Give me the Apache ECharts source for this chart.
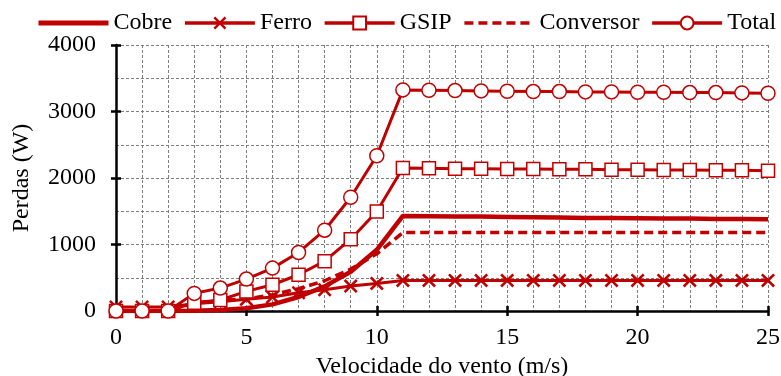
<!DOCTYPE html>
<html>
<head>
<meta charset="UTF-8">
<title>Perdas</title>
<script src="https://cdn.jsdelivr.net/npm/echarts@6/dist/echarts.min.js"></script>
<style>
  body { margin: 0; background: #fff; }
  #main { width: 781px; height: 376px; }
</style>
</head>
<body>
<div id="main"></div>
<script>
// velocidade do vento (m/s)
var vento = [0, 1, 2, 3, 4, 5, 6, 7, 8, 9, 10, 11, 12, 13, 14, 15, 16, 17, 18, 19, 20, 21, 22, 23, 24, 25];
// perdas (W)
var cobre = [0, 0, 0, 5, 15, 40, 100, 210, 370, 590, 920, 1430, 1425, 1420, 1420, 1415, 1410, 1405, 1400, 1400, 1395, 1390, 1390, 1385, 1385, 1380];
var ferro = [60, 60, 60, 110, 140, 175, 210, 275, 320, 375, 415, 460, 460, 460, 460, 460, 460, 460, 460, 460, 460, 460, 460, 460, 460, 460];
var gsip = [0, 0, 0, 125, 165, 295, 395, 545, 750, 1080, 1495, 2150, 2145, 2140, 2140, 2135, 2135, 2130, 2130, 2125, 2125, 2120, 2120, 2115, 2115, 2110];
var conversor = [0, 0, 0, 120, 160, 180, 245, 335, 455, 630, 860, 1180, 1180, 1180, 1180, 1180, 1180, 1180, 1180, 1180, 1180, 1180, 1180, 1180, 1180, 1180];
var total = [0, 0, 0, 265, 345, 480, 645, 880, 1215, 1710, 2335, 3325, 3320, 3315, 3310, 3305, 3300, 3300, 3295, 3295, 3290, 3290, 3285, 3285, 3280, 3275];

var vermelho = '#C00000';
var fonte = 'Liberation Serif';
var xis = 'path://M0,1.3L1.3,0L5,3.7L8.7,0L10,1.3L6.3,5L10,8.7L8.7,10L5,6.3L1.3,10L0,8.7L3.7,5Z';

function pares(ys) {
  return vento.map(function (v, i) { return [v, ys[i]]; });
}

var chart = echarts.init(document.getElementById('main'));

var grade = { show: true, lineStyle: { color: '#7f7f7f', type: [3, 2], width: 1 } };

var option = {
  backgroundColor: '#fff',
  animation: false,
  textStyle: { fontFamily: fonte, color: '#000' },
  legend: {
    top: 6,
    left: 31,
    width: 770,
    itemWidth: 70,
    itemHeight: 16,
    itemGap: 11,
    textStyle: { fontFamily: fonte, fontSize: 24, color: '#000' },
    data: [
      { name: 'Cobre', itemStyle: { opacity: 0 }, lineStyle: { width: 5 } },
      { name: 'Ferro', lineStyle: { width: 3.5 } },
      { name: 'GSIP', lineStyle: { width: 3.5 } },
      { name: 'Conversor', itemStyle: { opacity: 0 }, lineStyle: { width: 3.5 } },
      { name: 'Total', lineStyle: { width: 3.5 } }
    ]
  },
  grid: { left: 116, right: 13, top: 45, bottom: 65, outerBoundsMode: 'none', containLabel: false },
  xAxis: [{
    type: 'value', min: 0, max: 25, interval: 5,
    name: 'Velocidade do vento (m/s)', nameLocation: 'middle', nameGap: 36,
    nameTextStyle: { fontFamily: fonte, fontSize: 24, color: '#000' },
    axisLine: { show: true, onZero: false, lineStyle: { color: '#000', width: 2.5 } },
    axisTick: { show: true, length: 5, lineStyle: { color: '#000', width: 2.5 } },
    axisLabel: { fontFamily: fonte, fontSize: 24, color: '#000', margin: 15, formatter: function (v) { return String(v); } },
    splitLine: grade,
    minorTick: { show: false, splitNumber: 5 },
    minorSplitLine: grade
  }, {
    type: 'value', min: 0, max: 25, interval: 5, position: 'bottom',
    axisLine: { show: false },
    axisTick: { show: true, inside: true, length: 5, lineStyle: { color: '#000', width: 2.5 } },
    axisLabel: { show: false },
    splitLine: { show: false }
  }],
  yAxis: [{
    type: 'value', min: 0, max: 4000, interval: 1000,
    name: 'Perdas (W)', nameLocation: 'middle', nameGap: 82,
    nameTextStyle: { fontFamily: fonte, fontSize: 24, color: '#000' },
    axisLine: { show: true, onZero: false, lineStyle: { color: '#000', width: 2.5 } },
    axisTick: { show: true, length: 5, lineStyle: { color: '#000', width: 2.5 } },
    axisLabel: { fontFamily: fonte, fontSize: 24, color: '#000', margin: 20, formatter: function (v) { return String(v); } },
    splitLine: grade,
    minorTick: { show: false, splitNumber: 2 },
    minorSplitLine: grade
  }, {
    type: 'value', min: 0, max: 4000, interval: 1000, position: 'left',
    axisLine: { show: false },
    axisTick: { show: true, inside: true, length: 5, lineStyle: { color: '#000', width: 2.5 } },
    axisLabel: { show: false },
    splitLine: { show: false }
  }],
  series: [{
    name: 'Cobre', type: 'line', data: pares(cobre),
    symbol: 'none',
    lineStyle: { color: vermelho, width: 4.5 },
    itemStyle: { color: vermelho }
  }, {
    name: 'Ferro', type: 'line', data: pares(ferro),
    symbol: xis, symbolSize: 14,
    lineStyle: { color: vermelho, width: 3 },
    itemStyle: { color: vermelho, borderWidth: 0 }
  }, {
    name: 'GSIP', type: 'line', data: pares(gsip),
    symbol: 'rect', symbolSize: 13,
    lineStyle: { color: vermelho, width: 3 },
    itemStyle: { color: '#fff', borderColor: vermelho, borderWidth: 1.5 }
  }, {
    name: 'Conversor', type: 'line', data: pares(conversor),
    symbol: 'none',
    lineStyle: { color: vermelho, width: 3.5, type: [9, 5] },
    itemStyle: { color: vermelho }
  }, {
    name: 'Total', type: 'line', data: pares(total),
    symbol: 'circle', symbolSize: 14,
    lineStyle: { color: vermelho, width: 3 },
    itemStyle: { color: '#fff', borderColor: vermelho, borderWidth: 1.5 }
  }]
};

chart.setOption(option);
</script>
</body>
</html>
